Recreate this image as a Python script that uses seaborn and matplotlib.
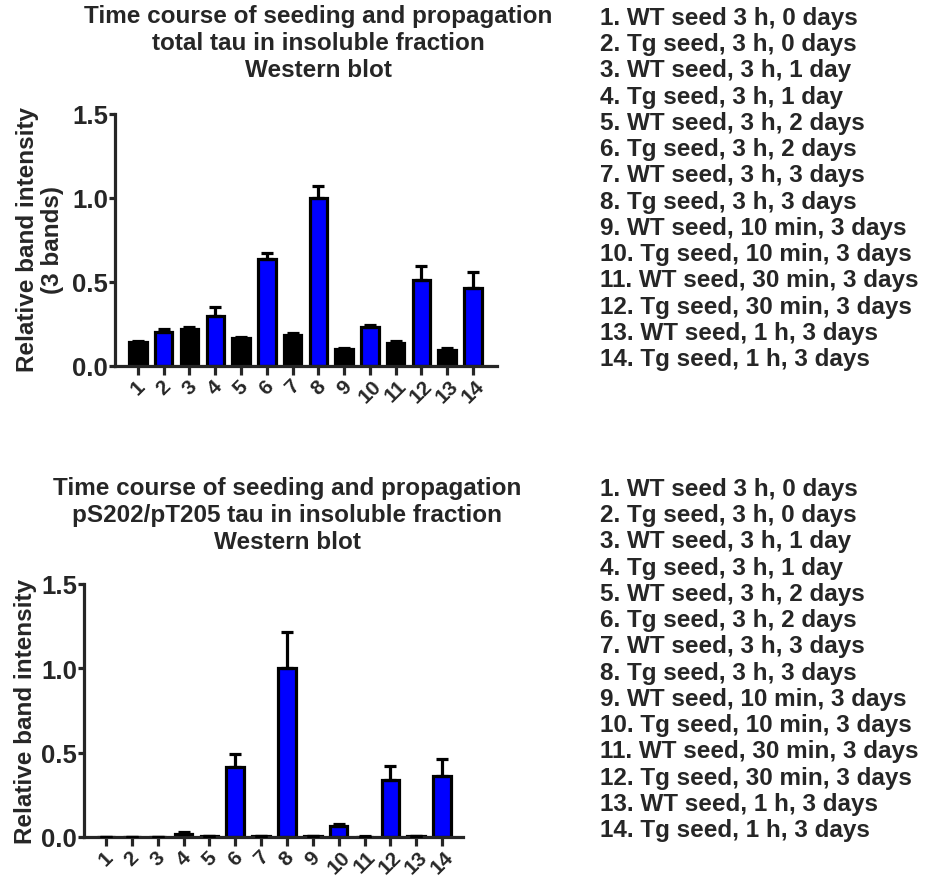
import matplotlib
matplotlib.use("Agg")
import matplotlib.pyplot as plt
import seaborn as sns
import pandas as pd

lanes = [str(i) for i in range(1, 15)]
lane_colors = ["#000000", "#0000FF"] * 7

total_mean = [0.14, 0.20, 0.22, 0.30, 0.165, 0.635, 0.185, 1.00, 0.103, 0.23, 0.135, 0.51, 0.095, 0.465]
total_sem = [0.008, 0.018, 0.01, 0.05, 0.008, 0.04, 0.01, 0.07, 0.004, 0.016, 0.012, 0.085, 0.012, 0.097]

phos_mean = [0.0, 0.0, 0.0, 0.02, 0.003, 0.415, 0.003, 1.00, 0.003, 0.063, 0.002, 0.34, 0.003, 0.362]
phos_sem = [0.0, 0.0, 0.0, 0.01, 0.001, 0.075, 0.001, 0.215, 0.001, 0.012, 0.001, 0.083, 0.001, 0.10]

legend_lines = [
    "1. WT seed 3 h, 0 days",
    "2. Tg seed, 3 h, 0 days",
    "3. WT seed, 3 h, 1 day",
    "4. Tg seed, 3 h, 1 day",
    "5. WT seed, 3 h, 2 days",
    "6. Tg seed, 3 h, 2 days",
    "7. WT seed, 3 h, 3 days",
    "8. Tg seed, 3 h, 3 days",
    "9. WT seed, 10 min, 3 days",
    "10. Tg seed, 10 min, 3 days",
    "11. WT seed, 30 min, 3 days",
    "12. Tg seed, 30 min, 3 days",
    "13. WT seed, 1 h, 3 days",
    "14. Tg seed, 1 h, 3 days",
]

title_top = "Time course of seeding and propagation\ntotal tau in insoluble fraction\nWestern blot"
title_bot = "Time course of seeding and propagation\npS202/pT205 tau in insoluble fraction\nWestern blot"
ylabel_top = "Relative band intensity\n(3 bands)"
ylabel_bot = "Relative band intensity"
yticks = [0.0, 0.5, 1.0, 1.5]
ytick_labels = ["0.0", "0.5", "1.0", "1.5"]

sns.set_style("ticks")
plt.rcParams["font.family"] = ["Liberation Sans", "DejaVu Sans"]
plt.rcParams["font.weight"] = "bold"

W, H = 926, 879
fig = plt.figure(figsize=(W / 100, H / 100), dpi=100)

FS = 17.5
LW = 2.3


def panel(rect, means, sems, xlim):
    ax = fig.add_axes(rect)
    df = pd.DataFrame({"lane": lanes, "value": means})
    sns.barplot(data=df, x="lane", y="value", hue="lane", palette=lane_colors,
                order=lanes, hue_order=lanes, legend=False, errorbar=None,
                saturation=1, width=0.68, edgecolor="black", linewidth=LW,
                ax=ax, zorder=2)
    lower = [0.0] * len(means)
    ax.errorbar(range(len(lanes)), means, yerr=[lower, sems], fmt="none",
                ecolor="black", elinewidth=LW, capsize=4.5, capthick=LW, zorder=3)
    ax.set_xlim(*xlim)
    ax.set_ylim(0, 1.5)
    ax.set_yticks(yticks)
    ax.set_yticklabels(ytick_labels, fontsize=18.5, fontweight="bold")
    ax.set_xticks(range(len(lanes)))
    ax.set_xticklabels(lanes, fontsize=15, fontweight="bold", rotation=45,
                       ha="center", va="top")
    ax.set_xlabel("")
    ax.set_ylabel("")
    sns.despine(ax=ax)
    for s in ["left", "bottom"]:
        ax.spines[s].set_linewidth(LW)
    ax.tick_params(axis="x", length=6.5, width=LW, pad=0.5)
    ax.tick_params(axis="y", length=4, width=LW, pad=1)
    ax.set_facecolor("white")
    return ax


# top panel: axis x from 115 to 497 px, y0 at 367, y1.5 at 115
ax1 = panel([115 / W, 1 - 367 / H, 382 / W, 252 / H], total_mean, total_sem, (-0.89, 13.93))
# bottom panel: axis x from 84 to 463 px, y0 at 838, y1.5 at 585
ax2 = panel([84 / W, 1 - 838 / H, 379 / W, 253 / H], phos_mean, phos_sem, (-0.85, 13.81))

fig.text(318 / W, 1 - 5 / H, title_top, ha="center", va="top", fontsize=FS,
         fontweight="bold", linespacing=1.23)
fig.text(287 / W, 1 - 477 / H, title_bot, ha="center", va="top", fontsize=FS,
         fontweight="bold", linespacing=1.23)

fig.text(40 / W, 1 - 240 / H, ylabel_top, ha="center", va="center", rotation=90,
         fontsize=FS, fontweight="bold", linespacing=1.15, multialignment="center")
fig.text(26 / W, 1 - 711 / H, ylabel_bot, ha="center", va="center", rotation=90,
         fontsize=FS, fontweight="bold")

legend_text = "\n".join(legend_lines)
fig.text(600 / W, 1 - 7 / H, legend_text, ha="left", va="top", fontsize=FS,
         fontweight="bold", linespacing=1.18)
fig.text(600 / W, 1 - 478 / H, legend_text, ha="left", va="top", fontsize=FS,
         fontweight="bold", linespacing=1.18)

fig.savefig("out.png", dpi=100, facecolor="white")
